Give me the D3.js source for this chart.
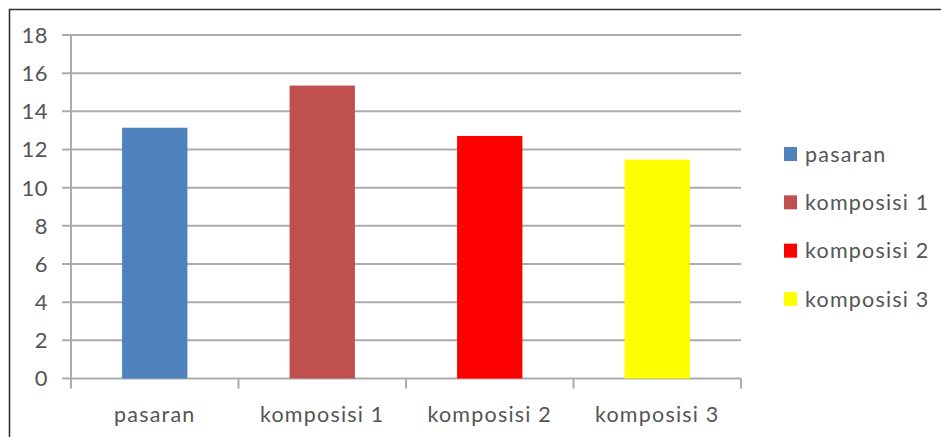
<!DOCTYPE html>
<html>
<head>
<meta charset="utf-8">
<script src="https://cdn.jsdelivr.net/npm/d3@7"></script>
<style>
  body { margin: 0; background: #fff; }
  text { font-family: Lato, "Open Sans", sans-serif; fill: #555; }
</style>
</head>
<body>
<div id="chart"></div>
<script>
// chart data
var categories = ["pasaran", "komposisi 1", "komposisi 2", "komposisi 3"];
var values = [13.14, 15.35, 12.71, 11.47];
var colors = ["#4F81BD", "#C0504D", "#FF0000", "#FFFF00"];
var yTicks = [0, 2, 4, 6, 8, 10, 12, 14, 16, 18];

var W = 941, H = 437;
var margin = {top: 35, right: 200, bottom: 58.5, left: 71},
    width = W - margin.left - margin.right,
    height = H - margin.top - margin.bottom;

var svg = d3.select("#chart").append("svg")
    .attr("width", W)
    .attr("height", H);

// outer frame (left + top edges only visible)
svg.append("path")
    .attr("d", "M9.5,437 L9.5,9.5 L941,9.5")
    .attr("fill", "none")
    .attr("stroke", "#333")
    .attr("stroke-width", 1.6);

var g = svg.append("g")
    .attr("transform", "translate(" + margin.left + "," + margin.top + ")");

var x = d3.scaleBand()
    .domain(categories)
    .range([0, width])
    .padding(0);

var y = d3.scaleLinear()
    .domain([0, 18])
    .range([height, 0]);

// gridlines
g.selectAll(".grid")
    .data(yTicks)
    .enter()
    .append("line")
    .attr("class", "grid")
    .attr("x1", -9)
    .attr("x2", width)
    .attr("y1", function(d) { return y(d); })
    .attr("y2", function(d) { return y(d); })
    .attr("stroke", "#ababab")
    .attr("stroke-width", 2);

// y axis line
g.append("line")
    .attr("x1", 0).attr("x2", 0)
    .attr("y1", y(18)).attr("y2", height)
    .attr("stroke", "#ababab")
    .attr("stroke-width", 2);

// x axis ticks at category boundaries
var bounds = categories.map(function(c) { return x(c); }).concat([width]);
g.selectAll(".xtick")
    .data(bounds)
    .enter()
    .append("line")
    .attr("class", "xtick")
    .attr("x1", function(d) { return d; })
    .attr("x2", function(d) { return d; })
    .attr("y1", height)
    .attr("y2", height + 10)
    .attr("stroke", "#ababab")
    .attr("stroke-width", 2);

// bars
var barW = x.bandwidth() * 0.39;
g.selectAll(".bar")
    .data(values)
    .enter()
    .append("rect")
    .attr("class", "bar")
    .attr("x", function(d, i) { return x(categories[i]) + (x.bandwidth() - barW) / 2; })
    .attr("width", barW)
    .attr("y", function(d) { return y(d); })
    .attr("height", function(d) { return height - y(d); })
    .attr("fill", function(d, i) { return colors[i]; });

// y labels
g.selectAll(".ylab")
    .data(yTicks)
    .enter()
    .append("text")
    .attr("class", "ylab")
    .attr("x", -23)
    .attr("y", function(d) { return y(d); })
    .attr("dy", "0.36em")
    .style("text-anchor", "end")
    .style("font-size", "22px")
    .style("letter-spacing", "0.5px")
    .text(function(d) { return d; });

// x labels
g.selectAll(".xlab")
    .data(categories)
    .enter()
    .append("text")
    .attr("class", "xlab")
    .attr("x", function(d) { return x(d) + x.bandwidth() / 2; })
    .attr("y", height + 43)
    .style("text-anchor", "middle")
    .style("font-size", "21.5px")
    .style("letter-spacing", "1.2px")
    .text(function(d) { return d; });

// legend
var ly = d3.scaleLinear().domain([0, 3]).range([154, 299]);
var legend = svg.selectAll(".legend")
    .data(categories)
    .enter()
    .append("g")
    .attr("class", "legend")
    .attr("transform", function(d, i) { return "translate(784," + ly(i) + ")"; });

legend.append("rect")
    .attr("x", 0)
    .attr("y", -7)
    .attr("width", 13)
    .attr("height", 14)
    .attr("fill", function(d, i) { return colors[i]; });

legend.append("text")
    .attr("x", 21)
    .attr("y", 0)
    .attr("dy", "0.36em")
    .style("font-size", "21.5px")
    .style("letter-spacing", "1.2px")
    .text(function(d) { return d; });
</script>
</body>
</html>
